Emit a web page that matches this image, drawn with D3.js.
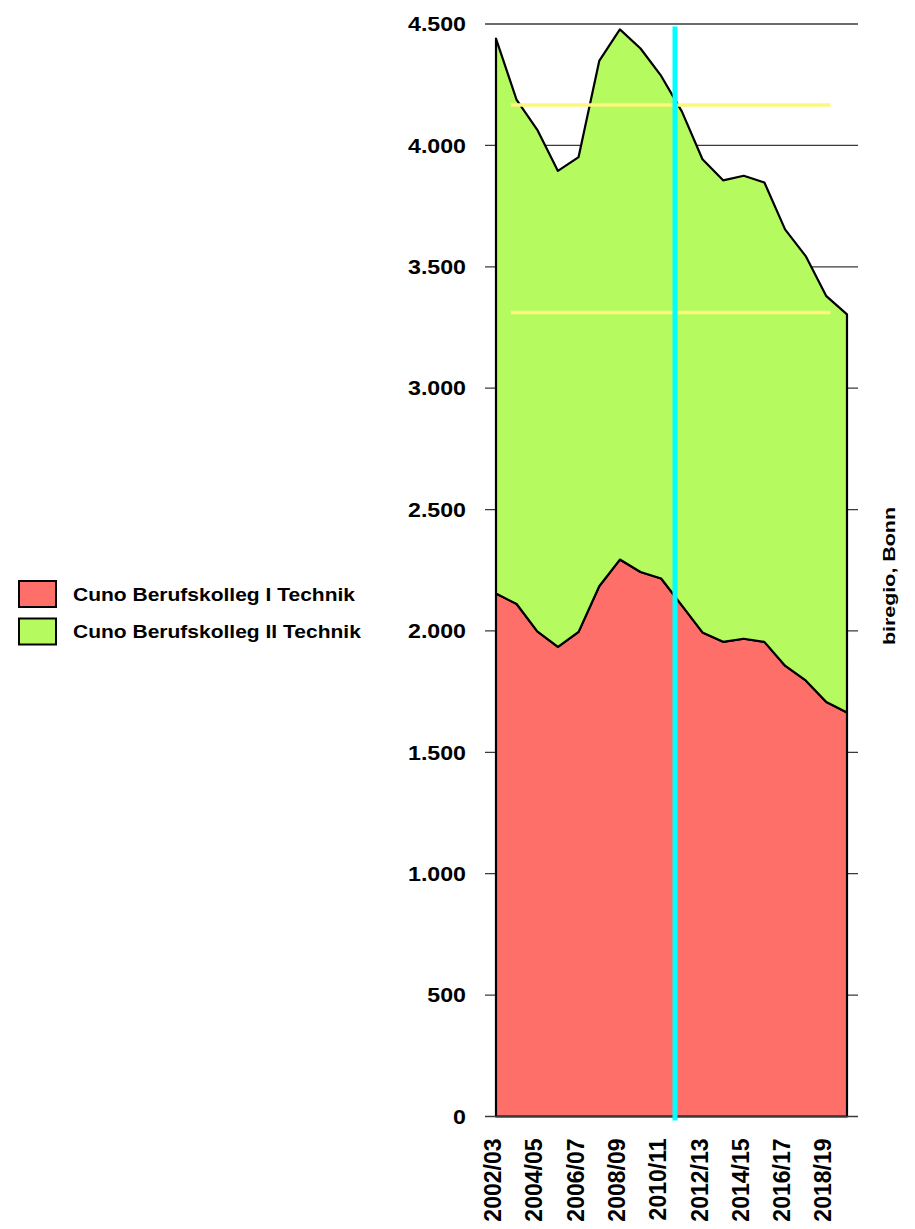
<!DOCTYPE html>
<html>
<head>
<meta charset="utf-8">
<script src="https://cdn.jsdelivr.net/npm/d3@7"></script>
<style>
  html, body { margin: 0; padding: 0; background: #fff; }
  svg { display: block; }
  text { font-family: "Liberation Sans", Arial, sans-serif; font-weight: bold; fill: #000; }
</style>
</head>
<body>
<svg id="chart" width="915" height="1229"></svg>
<script>
// ---- data ----
const categories = ["2002/03","2003/04","2004/05","2005/06","2006/07","2007/08","2008/09","2009/10","2010/11","2011/12","2012/13","2013/14","2014/15","2015/16","2016/17","2017/18","2018/19","2019/20"];
const seriesNames = ["Cuno Berufskolleg I Technik", "Cuno Berufskolleg II Technik"];
const seriesI  = [2154, 2111, 1998, 1934, 1996, 2184, 2294, 2243, 2216, 2105, 1994, 1955, 1968, 1955, 1857, 1796, 1707, 1664];
const seriesII = [2286, 2076, 2066, 1961, 1956, 2164, 2184, 2156, 2070, 2035, 1949, 1901, 1907, 1892, 1797, 1748, 1672, 1640];
const seriesColors = ["#ff6f6a", "#b5fb60"];
const yTicks = [0, 500, 1000, 1500, 2000, 2500, 3000, 3500, 4000, 4500];
const xTickLabels = ["2002/03","2004/05","2006/07","2008/09","2010/11","2012/13","2014/15","2016/17","2018/19"];
const refLineValues = [4166, 3312];          // yellow reference lines
const refLineRange = [0.72, 16.2];           // category index span of yellow lines
const markerIndex = 8.67;                    // cyan vertical marker (category index)
const sourceLabel = "biregio, Bonn";

// ---- layout ----
const svg = d3.select("#chart");
const plotLeft = 496, plotRight = 847, plotTop = 24, plotBottom = 1116.5;

const x = d3.scaleLinear().domain([0, categories.length - 1]).range([plotLeft, plotRight]);
const y = d3.scaleLinear().domain([0, 4500]).range([plotBottom, plotTop]);

// gridlines & ticks (behind areas)
const grid = svg.append("g");
grid.selectAll("line").data(yTicks.filter(d => d > 0)).join("line")
  .attr("x1", plotLeft - 11).attr("x2", plotRight + 11)
  .attr("y1", d => y(d)).attr("y2", d => y(d))
  .attr("stroke", "#3a3a3a").attr("stroke-width", 1.3);

// stacked data
const rows = categories.map((c, i) => ({ i, I: seriesI[i], II: seriesII[i] }));
const stack = d3.stack().keys(["I", "II"]);
const stacked = stack(rows);

const area = d3.area()
  .x(d => x(d.data.i))
  .y0(d => y(d[0]))
  .y1(d => y(d[1]));

svg.append("g").selectAll("path").data(stacked).join("path")
  .attr("d", area)
  .attr("fill", (d, k) => seriesColors[k])
  .attr("stroke", "#000")
  .attr("stroke-width", 2.2)
  .attr("stroke-linejoin", "round");

// bottom axis line
svg.append("line")
  .attr("x1", plotLeft - 11).attr("x2", plotRight + 11)
  .attr("y1", y(0)).attr("y2", y(0))
  .attr("stroke", "#3a3a3a").attr("stroke-width", 1.5);

// yellow reference lines
svg.append("g").selectAll("line").data(refLineValues).join("line")
  .attr("x1", x(refLineRange[0])).attr("x2", x(refLineRange[1]))
  .attr("y1", d => y(d)).attr("y2", d => y(d))
  .attr("stroke", "#fff77c").attr("stroke-width", 3.5);

// cyan marker
svg.append("line")
  .attr("x1", x(markerIndex)).attr("x2", x(markerIndex))
  .attr("y1", y(4490)).attr("y2", y(0) + 4)
  .attr("stroke", "#00ffff").attr("stroke-width", 5);

// y tick labels
svg.append("g").selectAll("text").data(yTicks).join("text")
  .attr("transform", d => `translate(${plotLeft - 30},${y(d)}) scale(1.16,1)`)
  .attr("dy", "0.36em")
  .attr("text-anchor", "end")
  .attr("font-size", 20)
  .text(d => d3.format(",")(d).replace(/,/g, "."));

// x tick labels
svg.append("g").selectAll("text").data(xTickLabels).join("text")
  .attr("transform", d => `translate(${x(categories.indexOf(d))},${y(0) + 22}) rotate(-90)`)
  .attr("dy", "0.22em")
  .attr("text-anchor", "end")
  .attr("font-size", 23)
  .text(d => d);

// source label
svg.append("text")
  .attr("transform", `translate(895,576) rotate(-90) scale(1.3,1)`)
  .attr("text-anchor", "middle")
  .attr("font-size", 16.5)
  .text(sourceLabel);

// legend
const legend = svg.append("g");
seriesNames.forEach((name, k) => {
  const gy = 581 + k * 37.5;
  legend.append("rect")
    .attr("x", 19).attr("y", gy).attr("width", 37).attr("height", 26)
    .attr("fill", seriesColors[k]).attr("stroke", "#000").attr("stroke-width", 2);
  legend.append("text")
    .attr("transform", `translate(73,${gy + 13}) scale(1.13,1)`)
    .attr("dy", "0.36em")
    .attr("font-size", 18.6)
    .text(name);
});
</script>
</body>
</html>
